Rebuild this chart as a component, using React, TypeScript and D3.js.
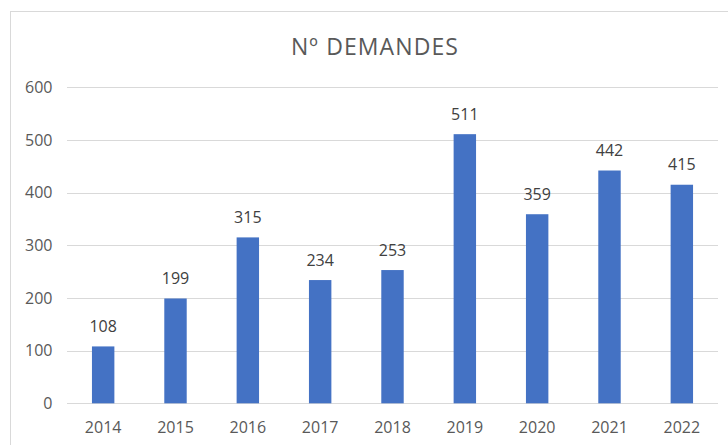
import React, { useEffect, useRef } from 'react'
import * as d3 from 'd3'

const years = ['2014', '2015', '2016', '2017', '2018', '2019', '2020', '2021', '2022']
const demandes = [108, 199, 315, 234, 253, 511, 359, 442, 415]
const yTicks = [0, 100, 200, 300, 400, 500, 600]
const title = 'Nº DEMANDES'

const W = 728
const H = 445
const FONT = '"Open Sans", "Liberation Sans", sans-serif'
const TXT = '#595959'

export default function App() {
  const ref = useRef<SVGSVGElement>(null)

  useEffect(() => {
    const svg = d3.select(ref.current)
    svg.selectAll('*').remove()

    const left = 67
    const right = 718
    const top = 87.3
    const bottom = 403.3

    // chart frame, runs off the right and bottom edge
    svg.append('rect')
      .attr('x', 10.5).attr('y', 11.5)
      .attr('width', 730).attr('height', 450)
      .attr('fill', '#fff')
      .attr('stroke', '#d9d9d9')

    svg.append('text')
      .attr('x', 375).attr('y', 54.5)
      .attr('text-anchor', 'middle')
      .style('font-family', FONT)
      .style('font-size', '23px')
      .style('letter-spacing', '1.1px')
      .style('fill', TXT)
      .text(title)

    const x = d3.scaleBand().domain(years).range([left, right]).paddingInner(0.69).paddingOuter(0.345)
    const y = d3.scaleLinear().domain([0, 600]).range([bottom, top])

    svg.append('g').selectAll('line')
      .data(yTicks)
      .join('line')
      .attr('x1', left).attr('x2', right)
      .attr('y1', d => Math.round(y(d)) + 0.5).attr('y2', d => Math.round(y(d)) + 0.5)
      .attr('stroke', '#d9d9d9')
      .attr('stroke-width', 1)

    svg.append('g').selectAll('text')
      .data(yTicks)
      .join('text')
      .attr('x', 52.5).attr('y', d => y(d) + 5.8)
      .attr('text-anchor', 'end')
      .style('font-family', FONT)
      .style('font-size', '16px')
      .style('fill', TXT)
      .text(d => d)

    svg.append('g').selectAll('rect')
      .data(demandes)
      .join('rect')
      .attr('x', (d, i) => x(years[i]))
      .attr('y', d => y(d))
      .attr('width', x.bandwidth())
      .attr('height', d => y(0) - y(d))
      .attr('fill', '#4472c4')

    svg.append('g').selectAll('text')
      .data(demandes)
      .join('text')
      .attr('x', (d, i) => x(years[i]) + x.bandwidth() / 2)
      .attr('y', d => y(d) - 14.3)
      .attr('text-anchor', 'middle')
      .style('font-family', FONT)
      .style('font-size', '16px')
      .style('fill', '#404040')
      .text(d => d)

    svg.append('g').selectAll('text')
      .data(years)
      .join('text')
      .attr('x', d => x(d) + x.bandwidth() / 2)
      .attr('y', 433.3)
      .attr('text-anchor', 'middle')
      .style('font-family', FONT)
      .style('font-size', '16px')
      .style('fill', TXT)
      .text(d => d)
  }, [])

  return (
    <svg ref={ref} width={W} height={H} style={{ position: 'absolute', left: 0, top: 0 }} />
  )
}
